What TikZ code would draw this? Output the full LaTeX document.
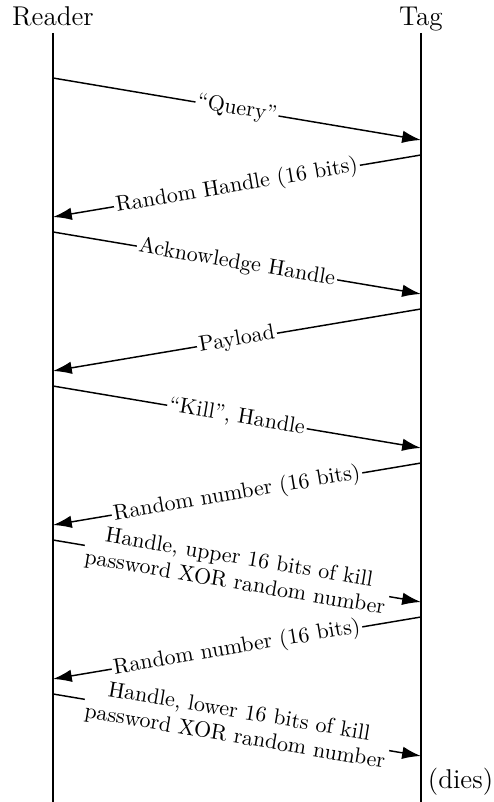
\documentclass[tikz,border=0pt]{standalone}
\usepackage{amsmath}
\usepackage{tikz}
\usetikzlibrary{positioning}
\usetikzlibrary{arrows.meta}

\begin{document}
\begin{tikzpicture}[line width=0.7pt, >={Latex[length=9pt,width=6pt]},
party/.style={font=\fontsize{13}{15.6}\selectfont, text depth=0pt, inner sep=3pt},
msg/.style={->},
msglabel/.style={midway, sloped, fill=white, inner sep=1pt, align=center,
  font=\fontsize{10.5}{12}\selectfont}]
\useasboundingbox (0,0) rectangle (8.309,-13.49);

% lifelines
\coordinate (rtop) at (0.891,-0.555);
\coordinate (rbot) at (0.891,-13.49);
\coordinate (ttop) at (7.081,-0.555);
\coordinate (tbot) at (7.081,-13.49);
\node [party, above = 0pt of rtop] (reader) {Reader};
\node [party, above = 0pt of ttop] (tag) {Tag};
\draw (rtop) -- (rbot);
\draw (ttop) -- (tbot);

% end points of the messages, reader side and tag side
\coordinate (r1) at (0.891,-1.312);  \coordinate (t1) at (7.081,-2.355);
\coordinate (t2) at (7.081,-2.607);  \coordinate (r2) at (0.891,-3.650);
\coordinate (r3) at (0.891,-3.902);  \coordinate (t3) at (7.081,-4.945);
\coordinate (t4) at (7.081,-5.197);  \coordinate (r4) at (0.891,-6.240);
\coordinate (r5) at (0.891,-6.493);  \coordinate (t5) at (7.081,-7.535);
\coordinate (t6) at (7.081,-7.788);  \coordinate (r6) at (0.891,-8.831);
\coordinate (r7) at (0.891,-9.083);  \coordinate (t7) at (7.081,-10.126);
\coordinate (t8) at (7.081,-10.378); \coordinate (r8) at (0.891,-11.421);
\coordinate (r9) at (0.891,-11.673); \coordinate (t9) at (7.081,-12.716);

% inventory
\draw [msg] (r1) -- node [msglabel] (query) {``Query''} (t1);
\draw [msg] (t2) -- node [msglabel] (rhandle) {Random Handle (16 bits)} (r2);
\draw [msg] (r3) -- node [msglabel] (ack) {Acknowledge Handle} (t3);
\draw [msg] (t4) -- node [msglabel] (payload) {Payload} (r4);

% kill
\draw [msg] (r5) -- node [msglabel] (kill) {``Kill'', Handle} (t5);
\draw [msg] (t6) -- node [msglabel] (rnum1) {Random number (16 bits)} (r6);
\draw [msg] (r7) -- node [msglabel] (upper) {Handle, upper 16 bits of kill\\password XOR random number} (t7);
\draw [msg] (t8) -- node [msglabel] (rnum2) {Random number (16 bits)} (r8);
\draw [msg] (r9) -- node [msglabel] (lower) {Handle, lower 16 bits of kill\\password XOR random number} (t9);

\node [font=\fontsize{13}{15.6}\selectfont, anchor=base west, inner sep=3pt] (dies) at (7.081,-13.27) {(dies)};
\end{tikzpicture}
\end{document}
